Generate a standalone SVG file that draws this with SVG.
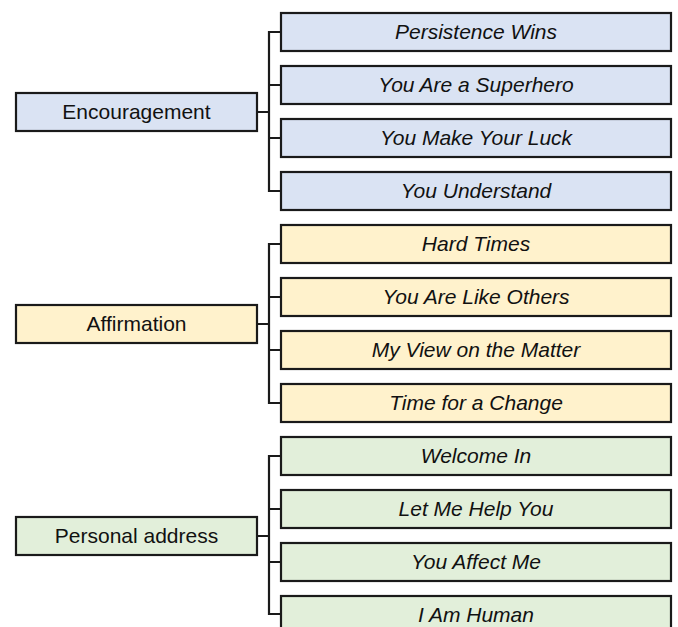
<svg xmlns="http://www.w3.org/2000/svg" width="678" height="627" viewBox="0 0 678 627">
<style>
rect{stroke:#1a1a1a;stroke-width:2.2}
.b{fill:#dae3f3}.y{fill:#fff2cc}.g{fill:#e2efda}
text{font-family:Arial,'Liberation Sans',Helvetica,sans-serif;font-size:21px;fill:#111;text-anchor:middle}
.c text{font-style:italic}
#connectors path{fill:none;stroke:#1a1a1a;stroke-width:2.2}
</style>
<rect width="678" height="627" fill="#fff" style="stroke:none"/>
<g id="connectors">
<path d="M257,112H269M281,32H269V191H281M269,85H281M269,138H281"/>
<path d="M257,324H269M281,244H269V403H281M269,297H281M269,350H281"/>
<path d="M257,536H269M281,456H269V614H281M269,509H281M269,562H281"/>
</g>
<g id="encouragement"><rect class="b" x="16" y="93" width="241" height="38"/><text x="136.5" y="118.5">Encouragement</text></g>
<g id="affirmation"><rect class="y" x="16" y="305" width="241" height="38"/><text x="136.5" y="330.5">Affirmation</text></g>
<g id="personal-address"><rect class="g" x="16" y="517" width="241" height="38"/><text x="136.5" y="542.5">Personal address</text></g>
<g class="c">
<g id="persistence-wins"><rect class="b" x="281" y="13" width="390" height="38"/><text x="476" y="38.5">Persistence Wins</text></g>
<g id="you-are-a-superhero"><rect class="b" x="281" y="66" width="390" height="38"/><text x="476" y="91.5">You Are a Superhero</text></g>
<g id="you-make-your-luck"><rect class="b" x="281" y="119" width="390" height="38"/><text x="476" y="144.5">You Make Your Luck</text></g>
<g id="you-understand"><rect class="b" x="281" y="172" width="390" height="38"/><text x="476" y="197.5">You Understand</text></g>
<g id="hard-times"><rect class="y" x="281" y="225" width="390" height="38"/><text x="476" y="250.5">Hard Times</text></g>
<g id="you-are-like-others"><rect class="y" x="281" y="278" width="390" height="38"/><text x="476" y="303.5">You Are Like Others</text></g>
<g id="my-view-on-the-matter"><rect class="y" x="281" y="331" width="390" height="38"/><text x="476" y="356.5">My View on the Matter</text></g>
<g id="time-for-a-change"><rect class="y" x="281" y="384" width="390" height="38"/><text x="476" y="409.5">Time for a Change</text></g>
<g id="welcome-in"><rect class="g" x="281" y="437" width="390" height="38"/><text x="476" y="462.5">Welcome In</text></g>
<g id="let-me-help-you"><rect class="g" x="281" y="490" width="390" height="38"/><text x="476" y="515.5">Let Me Help You</text></g>
<g id="you-affect-me"><rect class="g" x="281" y="543" width="390" height="38"/><text x="476" y="568.5">You Affect Me</text></g>
<g id="i-am-human"><rect class="g" x="281" y="596" width="390" height="38"/><text x="476" y="621.5">I Am Human</text></g>
</g>
</svg>
